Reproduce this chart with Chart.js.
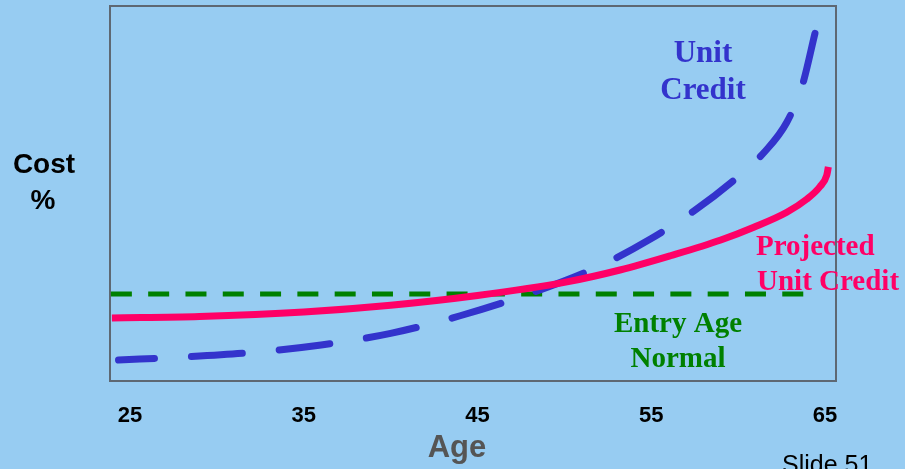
<!DOCTYPE html>
<html>
<head>
<meta charset="utf-8">
<script src="https://cdn.jsdelivr.net/npm/chart.js@4.4.1/dist/chart.umd.min.js"></script>
<style>
  html, body { margin: 0; padding: 0; background: #97ccf2; overflow: hidden; }
  canvas { display: block; }
</style>
</head>
<body>
<canvas id="c" width="905" height="469"></canvas>
<script>
// Ages shown along the bottom axis
const tickAges = [25, 35, 45, 55, 65];

// Unit Credit: normal cost as a share of pay, by age
const ucAges = [24.34, 28, 32, 36, 40, 44, 48, 52, 55, 57.5, 60, 61.5, 62.8, 63.7, 64.42];
const ucCost = [5.6, 6.4, 7.6, 9.6, 12.7, 17.4, 23.3, 30.6, 38.0, 45.5, 54.5, 61.0, 69.0, 79.0, 92.7];

// Projected Unit Credit
const pucAges = [23.96, 29, 35, 40, 45, 50, 53.2, 56.1, 59, 60.9, 62.8, 63.95, 64.7, 65.1, 65.19];
const pucCost = [16.8, 17.2, 18.4, 20.2, 22.8, 26.3, 29.6, 33.4, 37.6, 41.0, 45.0, 48.5, 51.8, 54.9, 57.1];

// Entry Age Normal: level cost across all ages
const eanAges = [23.9, 63.75];
const eanCost = [23.2, 23.2];

const toPoints = (xs, ys) => xs.map((x, i) => ({ x: x, y: ys[i] }));

const SANS = '"Liberation Sans", Arial, sans-serif';
const SERIF = '"Liberation Serif", "Times New Roman", serif';

// Plot frame plus the slide's text annotations
const slideDecor = {
  id: 'slideDecor',
  beforeDatasetsDraw(chart) {
    const { ctx, chartArea: a } = chart;
    ctx.save();
    ctx.strokeStyle = '#5e6873';
    ctx.lineWidth = 2;
    ctx.strokeRect(a.left, a.top, a.right - a.left, a.bottom - a.top);
    ctx.restore();
  },
  afterDraw(chart) {
    const ctx = chart.ctx;
    ctx.save();
    ctx.textBaseline = 'alphabetic';

    ctx.font = 'bold 31px ' + SERIF;
    ctx.fillStyle = '#3333cc';
    ctx.textAlign = 'center';
    ctx.fillText('Unit', 703, 61.5);
    ctx.fillText('Credit', 703, 99);

    ctx.font = 'bold 29px ' + SERIF;
    ctx.fillStyle = '#ff0066';
    ctx.textAlign = 'left';
    ctx.fillText('Projected', 756, 255);
    ctx.fillText('Unit Credit', 757, 290);

    ctx.fillStyle = '#008000';
    ctx.textAlign = 'center';
    ctx.fillText('Entry Age', 678, 331.5);
    ctx.fillText('Normal', 678, 367);

    ctx.fillStyle = '#000000';
    ctx.font = 'bold 28px ' + SANS;
    ctx.fillText('Cost', 44, 172.5);
    ctx.fillText('%', 43, 209);

    ctx.fillStyle = '#555555';
    ctx.font = 'bold 31px ' + SANS;
    ctx.fillText('Age', 457, 457);

    ctx.fillStyle = '#000000';
    ctx.font = '25px ' + SANS;
    ctx.textAlign = 'left';
    ctx.fillText('Slide 51', 782, 473);
    ctx.restore();
  }
};

new Chart(document.getElementById('c'), {
  type: 'line',
  data: {
    datasets: [
      {
        label: 'Projected Unit Credit',
        data: toPoints(pucAges, pucCost),
        borderColor: '#ff0066',
        borderWidth: 7,
        borderCapStyle: 'butt',
        cubicInterpolationMode: 'monotone',
        pointRadius: 0,
        fill: false
      },
      {
        label: 'Unit Credit',
        data: toPoints(ucAges, ucCost),
        borderColor: '#3333cc',
        borderWidth: 7,
        borderDash: [51, 37],
        borderDashOffset: 15,
        borderCapStyle: 'round',
        cubicInterpolationMode: 'monotone',
        pointRadius: 0,
        fill: false
      },
      {
        label: 'Entry Age Normal',
        data: toPoints(eanAges, eanCost),
        borderColor: '#008000',
        borderWidth: 5,
        borderDash: [21, 16.3],
        borderCapStyle: 'butt',
        pointRadius: 0,
        fill: false
      }
    ]
  },
  options: {
    responsive: false,
    devicePixelRatio: 1,
    animation: false,
    events: [],
    layout: { padding: { left: 110, top: 6, right: 69, bottom: 0 } },
    plugins: { legend: { display: false }, tooltip: { enabled: false } },
    scales: {
      x: {
        type: 'linear',
        min: 23.85,
        max: 65.63,
        afterBuildTicks: (s) => { s.ticks = tickAges.map(v => ({ value: v })); },
        afterFit: (s) => { s.height = 88; },
        grid: { display: false, drawTicks: false },
        border: { display: false },
        ticks: {
          color: '#000000',
          font: { family: SANS, size: 22, weight: 'bold' },
          padding: 22,
          maxRotation: 0,
          autoSkip: false
        }
      },
      y: {
        display: false,
        min: 0,
        max: 100
      }
    }
  },
  plugins: [slideDecor]
});
</script>
</body>
</html>
